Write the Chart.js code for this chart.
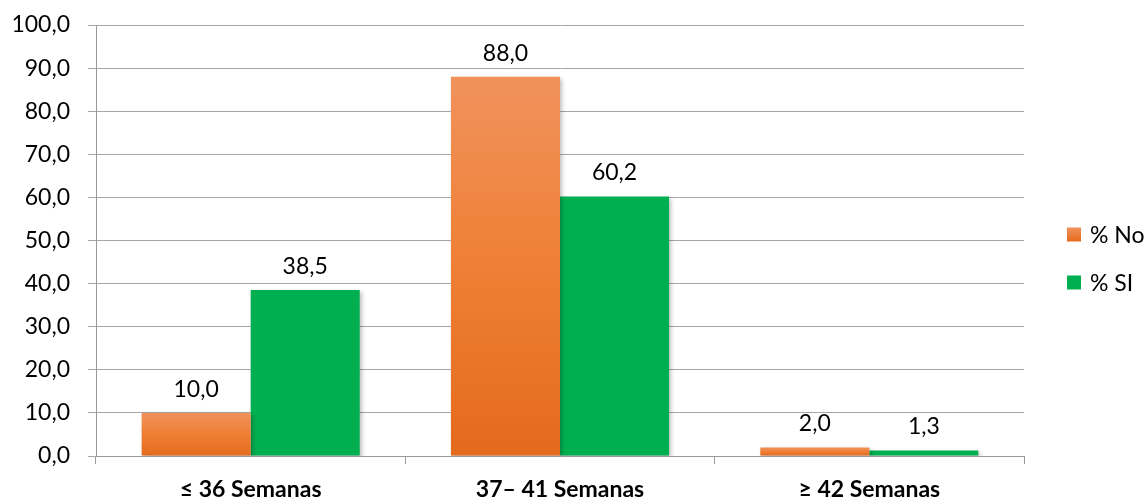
<!DOCTYPE html>
<html lang="es">
<head>
  <meta charset="UTF-8">
  <title>Semanas de gestación</title>
  <script src="https://cdn.jsdelivr.net/npm/chart.js"></script>
  <style>
    html, body { margin: 0; padding: 0; background: #fff; }
    #wrap { width: 1146px; height: 500px; }
  </style>
</head>
<body>
  <div id="wrap"><canvas id="semanasChart" width="1146" height="500"></canvas></div>
  <script>
    // data
    const categories = ['≤ 36 Semanas', '37– 41 Semanas', '≥ 42 Semanas'];
    const seriesNames = ['% No', '% SI'];
    const pctNo = [10.0, 88.0, 2.0];
    const pctSi = [38.5, 60.2, 1.3];
    const yTicks = [0, 10, 20, 30, 40, 50, 60, 70, 80, 90, 100];

    const fmt = v => v.toFixed(1).replace('.', ',');
    const FONT = 'Lato, "Open Sans", sans-serif';
    const ORANGE = '#EE7B30';
    const GREEN = '#00B050';

    // orange bars: light at the top, darker at the base, per bar
    function orangeFill(context) {
      const chart = context.chart;
      const y = chart.scales.y;
      if (!y || !chart.chartArea || typeof context.raw !== 'number') return ORANGE;
      const top = y.getPixelForValue(context.raw);
      const base = y.getPixelForValue(0);
      if (!isFinite(top) || !isFinite(base) || top === base) return ORANGE;
      const g = chart.ctx.createLinearGradient(0, top, 0, base);
      g.addColorStop(0, '#F0925C');
      g.addColorStop(0.5, '#EF7F35');
      g.addColorStop(1, '#E46A1C');
      return g;
    }

    function legendOrange(ctx, x, y, s) {
      const g = ctx.createLinearGradient(0, y, 0, y + s);
      g.addColorStop(0, '#F0925C');
      g.addColorStop(1, '#E46A1C');
      return g;
    }

    // value labels above each bar
    const valueLabels = {
      id: 'valueLabels',
      afterDatasetsDraw(chart) {
        const ctx = chart.ctx;
        ctx.save();
        ctx.font = '23px ' + FONT;
        ctx.fillStyle = '#000';
        ctx.textAlign = 'center';
        ctx.textBaseline = 'bottom';
        chart.data.datasets.forEach((ds, i) => {
          chart.getDatasetMeta(i).data.forEach((bar, j) => {
            ctx.fillText(fmt(ds.data[j]), bar.x, bar.y - 12);
          });
        });
        ctx.restore();
      }
    };

    // soft shadow under the bars
    const barShadow = {
      id: 'barShadow',
      beforeDatasetsDraw(chart) {
        const ctx = chart.ctx;
        ctx.save();
        ctx.shadowColor = 'rgba(0,0,0,0.25)';
        ctx.shadowBlur = 4;
        ctx.shadowOffsetX = 2;
        ctx.shadowOffsetY = 2;
      },
      afterDatasetsDraw(chart) {
        chart.ctx.restore();
      }
    };

    // legend on the right, in the space kept free by layout.padding.right
    const sideLegend = {
      id: 'sideLegend',
      afterDraw(chart) {
        const ctx = chart.ctx;
        const area = chart.chartArea;
        const x = area.right + 43;
        const size = 14;
        const gap = 48;
        const midY = (area.top + area.bottom) / 2 + 18;
        ctx.save();
        ctx.font = '23px ' + FONT;
        ctx.textBaseline = 'middle';
        ctx.textAlign = 'left';
        chart.data.datasets.forEach((ds, i) => {
          const cy = midY + (i - 0.5) * gap;
          const by = cy - size / 2;
          ctx.fillStyle = i === 0 ? legendOrange(ctx, x, by, size) : GREEN;
          ctx.fillRect(x, by, size, size);
          ctx.fillStyle = '#000';
          ctx.fillText(ds.label, x + size + 9, cy + 1);
        });
        ctx.restore();
      }
    };

    new Chart(document.getElementById('semanasChart'), {
      type: 'bar',
      data: {
        labels: categories,
        datasets: [
          { label: seriesNames[0], data: pctNo, backgroundColor: orangeFill, borderWidth: 0 },
          { label: seriesNames[1], data: pctSi, backgroundColor: GREEN, borderWidth: 0 }
        ]
      },
      options: {
        responsive: false,
        animation: false,
        events: [],
        layout: { padding: { top: 25, right: 122, left: 0, bottom: 0 } },
        datasets: { bar: { categoryPercentage: 0.705, barPercentage: 1.0 } },
        scales: {
          x: {
            grid: { drawOnChartArea: false, drawTicks: true, tickLength: 8, color: '#9A9A9A', offset: true },
            border: { color: '#9A9A9A', width: 1 },
            ticks: { color: '#000', padding: 12, font: { family: FONT, size: 23, weight: 'bold' } },
            afterFit(scale) { scale.height = 44; }
          },
          y: {
            min: 0,
            max: 100,
            afterBuildTicks(scale) { scale.ticks = yTicks.map(v => ({ value: v })); },
            grid: { color: '#A6A6A6', tickLength: 8 },
            border: { color: '#9A9A9A', width: 1 },
            ticks: {
              color: '#000',
              padding: 18,
              font: { family: FONT, size: 23 },
              callback: v => fmt(v)
            },
            afterFit(scale) {
              scale.width = 96;
              scale.paddingTop = 0;
              scale.paddingBottom = 0;
            }
          }
        },
        plugins: {
          legend: { display: false },
          tooltip: { enabled: false }
        }
      },
      plugins: [barShadow, valueLabels, sideLegend]
    });
  </script>
</body>
</html>
